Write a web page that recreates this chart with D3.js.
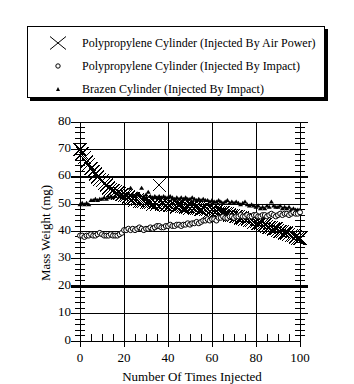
<!DOCTYPE html>
<html><head><meta charset="utf-8">
<script src="https://cdn.jsdelivr.net/npm/d3@7"></script>
<style>body{margin:0;background:#fff}svg{display:block}text{font-family:"Liberation Serif","Times New Roman",serif;fill:#000}</style>
</head><body><svg id="c" width="354" height="384"></svg>
<script>
const injections = [0,1,2,3,4,5,6,7,8,9,10,11,12,13,14,15,16,17,18,19,20,21,22,23,24,25,26,27,28,29,30,31,32,33,34,35,36,37,38,39,40,41,42,43,44,45,46,47,48,49,50,51,52,53,54,55,56,57,58,59,60,61,62,63,64,65,66,67,68,69,70,71,72,73,74,75,76,77,78,79,80,81,82,83,84,85,86,87,88,89,90,91,92,93,94,95,96,97,98,99,100];
const airPower = [70,68.5,67,65.5,64.5,63,62,61,60,59,
58.5,57.5,57,56,55.5,55,54.5,54,54,53.5,
53,53,52.5,52,52,51.5,51.5,51,51,51,
50.5,50.5,50.5,50,50.5,50,57,50,50,49.5,
50,49.5,49.5,49.5,49,49.5,49,49,49,49,
48.5,49,48.5,48.5,48.5,48,48.5,48,48,47.5,
48,47.5,47.5,47,47,47,46.5,46.5,46,46,
46,45.5,45.5,45,45,44.5,44.5,44,44,43.5,
43.5,43,43,42.5,42.5,42,41.5,41.5,41,41,
40.5,40,40,39.5,39.5,39,38.5,38.5,38,37.5,37.5];
const polyImpact = [38.5,38.5,38,38.5,38.5,39,38.5,38.5,39,39.5,
39,38.5,38.5,38.5,39,38.5,38.5,38.5,39,39.5,
40.5,40.5,41,40.5,41,40.5,41,41.5,41,40.5,
41,41,41.5,41,41.5,42,42,41.5,41.5,42,
42,42.5,42,42,42.5,42.5,42,42.5,42.5,43,
42.5,43,43,43.5,43,43.5,44,44,44.5,44,
44.5,44.5,44,45,45,45.5,45,45,45.5,45.5,
45,45.5,45.5,46,45.5,45.5,46,45.5,45.5,46,
46,45.5,45.5,46,46,45.5,46,46.5,46,45.5,
46,46.5,46,46.5,46.5,46,46.5,47,46.5,46.5,47];
const brazenImpact = [50,50.5,50,50.5,50,51.5,51.5,52,51.5,52,
52,52.5,52,52.5,53,52.5,53,54,53,52.5,
53,53.5,54,56,53.5,53,54,53.5,56,53,
53.5,54.5,53,52.5,53,52.5,53,52.5,53,52.5,
52.5,53,52.5,52,52.5,52,52.5,52,52.5,52,
52,52.5,52,51.5,52,51.5,52,51.5,51.5,51,
51.5,51,51,51.5,51,50.5,51,51.5,50.5,51,
50.5,51,50.5,50,50.5,51,50,49.5,50,49.5,
49,49.5,48.5,49,48.5,49.5,49,51,49.5,49,
49,49.5,48.5,49,48.5,49,48,48.5,48,48,48];
const seriesNames = ["Polypropylene Cylinder (Injected By Air Power)","Polypropylene Cylinder (Injected By Impact)","Brazen Cylinder (Injected By Impact)"];
const xTicks = [0,20,40,60,80,100];
const yTicks = [0,10,20,30,40,50,60,70,80];
const thickY = [20,60];
const xTitle = "Number Of Times Injected";
const yTitle = "Mass Weight (mg)";

const svg = d3.select("#c");
const x = d3.scaleLinear().domain([0,100]).range([80,300]);
const y = d3.scaleLinear().domain([0,80]).range([341,122]);
const g = svg.append("g");

yTicks.filter(v=>v>0).forEach(v=>{
  g.append("line").attr("x1",x(0)-9).attr("x2",x(100)+8).attr("y1",y(v)).attr("y2",y(v))
   .attr("stroke","#000").attr("stroke-width",thickY.includes(v)?2.5:1).attr("shape-rendering","crispEdges");
});
xTicks.filter(v=>v>0&&v<100).forEach(v=>{
  g.append("line").attr("x1",x(v)).attr("x2",x(v)).attr("y1",y(80)).attr("y2",y(0)+6)
   .attr("stroke","#000").attr("stroke-width",1).attr("shape-rendering","crispEdges");
});
[[x(0),y(80),x(0),y(0)+6],[x(100),y(80),x(100),y(0)+6],[x(0)-9,y(0),x(100),y(0)]].forEach(l=>{
  g.append("line").attr("x1",l[0]).attr("y1",l[1]).attr("x2",l[2]).attr("y2",l[3]).attr("stroke","#000").attr("shape-rendering","crispEdges");
});
d3.range(2,80,2).filter(v=>v%10!==0).forEach(v=>{
  [x(0),x(100)].forEach(cx=>{
    g.append("line").attr("x1",cx-5).attr("x2",cx+5).attr("y1",y(v)).attr("y2",y(v)).attr("stroke","#000").attr("shape-rendering","crispEdges");
  });
});
d3.range(5,100,5).filter(v=>v%20!==0).forEach(v=>{
  g.append("line").attr("x1",x(v)).attr("x2",x(v)).attr("y1",y(0)-7).attr("y2",y(0)+1).attr("stroke","#000").attr("shape-rendering","crispEdges");
});
yTicks.forEach(v=>{
  g.append("text").attr("x",x(0)-9).attr("y",y(v)+2.5).attr("text-anchor","end").attr("font-size",13).text(v);
});
xTicks.forEach(v=>{
  g.append("text").attr("x",x(v)).attr("y",362).attr("text-anchor","middle").attr("font-size",13).text(v);
});
svg.append("text").attr("x",192).attr("y",381).attr("text-anchor","middle").attr("font-size",13).text(xTitle);
svg.append("text").attr("transform","translate(50,233) rotate(-90)").attr("text-anchor","middle").attr("font-size",13).text(yTitle);

const xPath = (sx,sy)=>`M${-sx},${-sy}L${sx},${sy}M${-sx},${sy}L${sx},${-sy}`;
const triPath = (w,h)=>`M0,${-h/2}L${w/2},${h/2}L${-w/2},${h/2}Z`;
const dX = injections.map((d,i)=>({x:d,y:airPower[i]}));
const dC = injections.map((d,i)=>({x:d,y:polyImpact[i]}));
const dT = injections.map((d,i)=>({x:d,y:brazenImpact[i]}));
g.append("g").selectAll("path").data(dX).join("path")
  .attr("transform",d=>`translate(${x(d.x)},${y(d.y)})`).attr("d",xPath(6.5,6.5)).attr("stroke","#000").attr("fill","none").attr("stroke-width",1).attr("shape-rendering","crispEdges");
g.append("g").selectAll("path").data(dT).join("path")
  .attr("transform",d=>`translate(${x(d.x)},${y(d.y)})`).attr("d",triPath(5,4)).attr("fill","#000");
g.append("g").selectAll("circle").data(dC).join("circle")
  .attr("cx",d=>x(d.x)).attr("cy",d=>y(d.y)).attr("r",2.5).attr("fill","#fff").attr("stroke","#000").attr("stroke-width",1);

const lg = svg.append("g");
lg.append("rect").attr("x",30).attr("y",29).attr("width",298).attr("height",72).attr("fill","#000");
lg.append("rect").attr("x",27.5).attr("y",26.5).attr("width",297).attr("height",71).attr("fill","#fff").attr("stroke","#000");
const rows=[43,66,89];
lg.append("path").attr("transform",`translate(58,${rows[0]})`).attr("d",xPath(8,6.5)).attr("stroke","#000").attr("fill","none");
lg.append("circle").attr("cx",58).attr("cy",rows[1]).attr("r",2.2).attr("fill","#fff").attr("stroke","#000");
lg.append("path").attr("transform",`translate(58,${rows[2]})`).attr("d",triPath(4,4)).attr("fill","#000");
seriesNames.forEach((n,i)=>{
  lg.append("text").attr("x",82).attr("y",rows[i]+4).attr("font-size",12).text(n);
});
</script></body></html>
